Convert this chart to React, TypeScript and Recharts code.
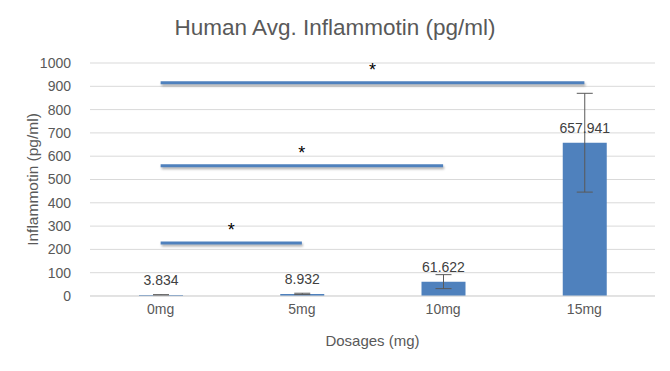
import React from 'react';
import {
    BarChart,
    Bar,
    XAxis,
    YAxis,
    CartesianGrid,
    ErrorBar,
    LabelList,
    ReferenceLine
} from 'recharts';

const dosages = ['0mg', '5mg', '10mg', '15mg'];
const avgValues = [3.834, 8.932, 61.622, 657.941];
const errValues = [2, 3, 30, 212];
const yTicks = [0, 100, 200, 300, 400, 500, 600, 700, 800, 900, 1000];

// significance brackets: from dosage, to dosage, height
const sigFrom = ['0mg', '0mg', '0mg'];
const sigTo = ['5mg', '10mg', '15mg'];
const sigLevel = [228, 559, 915];
const sigMark = ['*', '*', '*'];

const data = dosages.map((d, i) => ({ dosage: d, avg: avgValues[i], err: errValues[i] }));

const font = '"Liberation Sans", Arial, sans-serif';
const barColor = '#4f81bd';

export default function App() {
    return (
        <div style={{ position: 'absolute', left: 0, top: 0, width: 670, height: 371, background: '#fff', fontFamily: font }}>
            <div style={{ position: 'absolute', left: 0, top: 15, width: 670, textAlign: 'center', fontSize: 22.5, color: '#595959' }}>
                Human Avg. Inflammotin (pg/ml)
            </div>
            <BarChart
                width={670}
                height={371}
                data={data}
                margin={{ top: 63, right: 15, left: 0, bottom: 0 }}
                style={{ position: 'absolute', left: 0, top: 0 }}
            >
                <CartesianGrid vertical={false} stroke="#d9d9d9" />
                <XAxis
                    dataKey="dosage"
                    height={75}
                    tickLine={false}
                    axisLine={{ stroke: '#d9d9d9' }}
                    tick={{ fill: '#595959', fontSize: 14, fontFamily: font }}
                    tickMargin={2}
                    label={{ value: 'Dosages (mg)', position: 'insideBottom', offset: 25, fill: '#595959', fontSize: 15, fontFamily: font }}
                />
                <YAxis
                    width={90}
                    domain={[0, 1000]}
                    ticks={yTicks}
                    interval={0}
                    tickLine={false}
                    axisLine={false}
                    tick={{ fill: '#595959', fontSize: 14, fontFamily: font }}
                    tickMargin={13}
                    label={{ value: 'Inflammotin (pg/ml)', angle: -90, position: 'insideLeft', dx: 27, fill: '#595959', fontSize: 15.5, fontFamily: font, style: { textAnchor: 'middle' } }}
                />
                <Bar dataKey="avg" fill={barColor} barSize={44} isAnimationActive={false}>
                    <ErrorBar dataKey="err" width={8} stroke="#595959" strokeWidth={1} direction="y" />
                    <LabelList dataKey="avg" position="top" offset={10} fill="#404040" fontSize={14} fontFamily={font} />
                </Bar>
                {sigLevel.map((lvl, i) => (
                    <ReferenceLine
                        key={i}
                        segment={[{ x: sigFrom[i], y: lvl }, { x: sigTo[i], y: lvl }]}
                        stroke={barColor}
                        strokeWidth={3}
                        style={{ filter: 'drop-shadow(1px 2px 1px rgba(0,0,0,0.3))' }}
                        label={{ value: sigMark[i], position: 'top', offset: 7, fill: '#000', fontSize: 18, fontFamily: font }}
                    />
                ))}
            </BarChart>
        </div>
    );
}
